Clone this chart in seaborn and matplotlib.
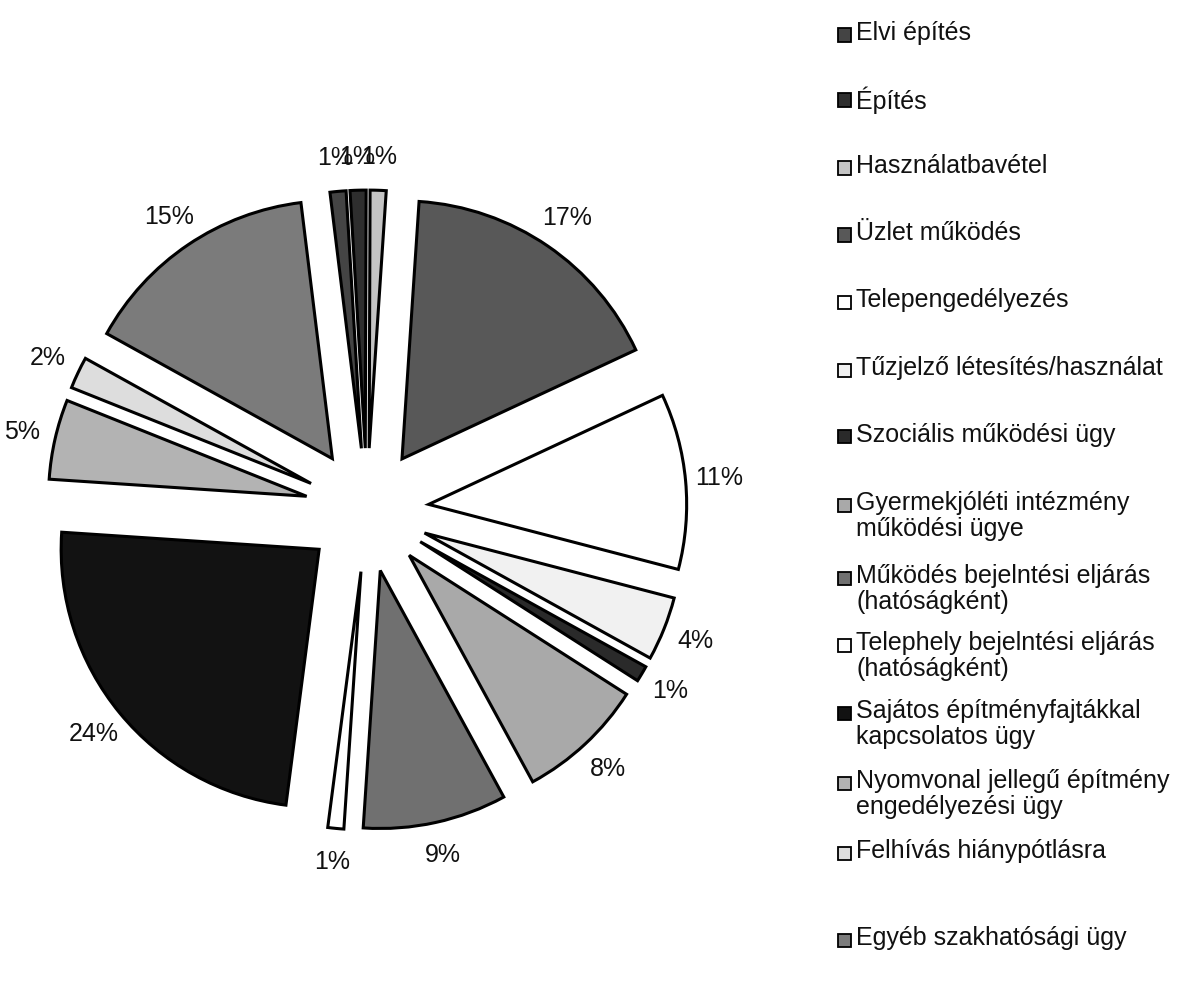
import matplotlib
matplotlib.use("Agg")
import matplotlib.pyplot as plt
from matplotlib.patches import Rectangle
import seaborn as sns

# --- data (clockwise from the top of the pie) ---
categories = [
    "Elvi építés",
    "Építés",
    "Használatbavétel",
    "Üzlet működés",
    "Telepengedélyezés",
    "Tűzjelző létesítés/használat",
    "Szociális működési ügy",
    "Gyermekjóléti intézmény\nműködési ügye",
    "Működés bejelntési eljárás\n(hatóságként)",
    "Telephely bejelntési eljárás\n(hatóságként)",
    "Sajátos építményfajtákkal\nkapcsolatos ügy",
    "Nyomvonal jellegű építmény\nengedélyezési ügy",
    "Felhívás hiánypótlásra",
    "Egyéb szakhatósági ügy",
]
shares = [1, 1, 1, 17, 11, 4, 1, 8, 9, 1, 24, 5, 2, 15]
slice_colors = [
    "#444444", "#2e2e2e", "#c4c4c4", "#585858", "#ffffff", "#f1f1f1", "#2a2a2a",
    "#a9a9a9", "#707070", "#ffffff", "#121212", "#b3b3b3", "#dddddd", "#7b7b7b",
]

# legend slots (pixel row of first text line, from top)
legend_rows = [35, 100, 168, 235, 302, 370, 437, 505, 578, 645, 713, 783, 853, 940]


def main():
    sns.set_theme(style="white")
    plt.rcParams["font.family"] = ["Liberation Sans", "DejaVu Sans"]

    W, H = 1204, 985
    fig = plt.figure(figsize=(W / 100, H / 100), dpi=100)
    fig.patch.set_facecolor("white")

    # pie: radius ~258 px, centre ~(367, 510)
    r, cx, cy = 258, 367, 510
    side = 2.5 * r
    ax = fig.add_axes([(cx - side / 2) / W, 1 - (cy + side / 2) / H, side / W, side / H])

    wedges, texts, autotexts = ax.pie(
        shares,
        explode=[0.24] * len(shares),
        colors=slice_colors,
        startangle=97,
        counterclock=False,
        autopct="%.0f%%",
        pctdistance=1.13,
        wedgeprops=dict(edgecolor="black", linewidth=2.2),
        textprops=dict(fontsize=18, color="#111111"),
    )
    ax.set_aspect("equal")

    # legend on the right, fixed slots like the original
    for lab, col, row in zip(categories, slice_colors, legend_rows):
        box = 13
        fig.patches.append(Rectangle(
            (838 / W, 1 - (row + box / 2) / H), box / W, box / H,
            transform=fig.transFigure, facecolor=col, edgecolor="black",
            linewidth=1.3, figure=fig))
        fig.text(856 / W, 1 - (row - 14) / H, lab, fontsize=18, va="top",
                 ha="left", linespacing=1.08, color="#111111")

    plt.savefig("out.png", dpi=100, facecolor="white")
    plt.close()


if __name__ == "__main__":
    main()
